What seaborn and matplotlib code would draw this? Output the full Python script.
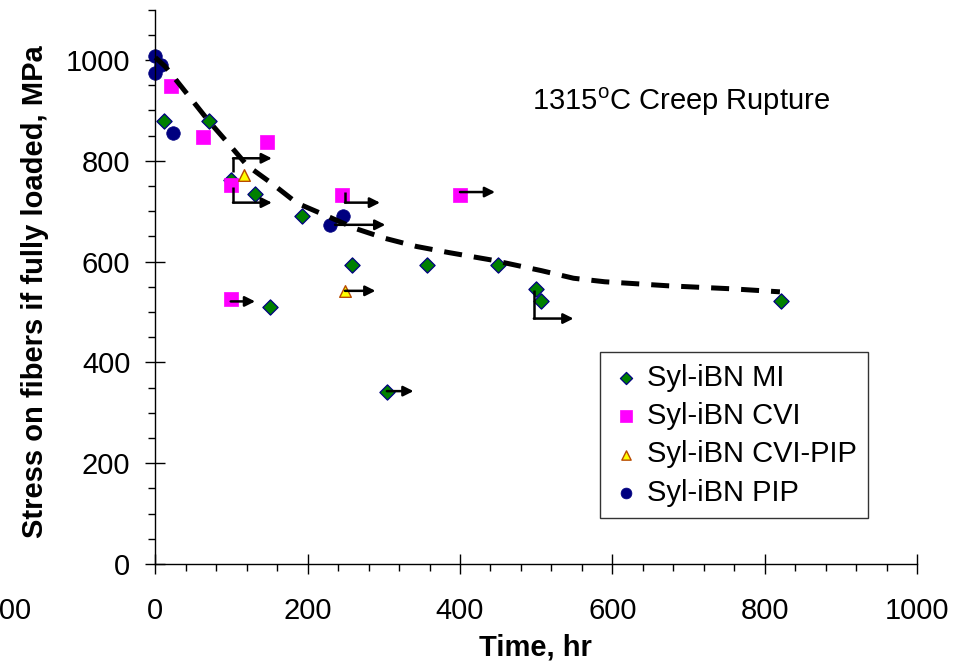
import numpy as np
import pandas as pd
import matplotlib
matplotlib.use('Agg')
import matplotlib.pyplot as plt
from matplotlib.ticker import FixedLocator
import seaborn as sns

# --- data (time in hr, stress in MPa) ---
mi_time = [11, 70, 99, 131, 192, 151, 258, 357, 450, 500, 507, 822, 304]
mi_stress = [879, 879, 762, 735, 691, 509, 593, 593, 593, 545, 522, 522, 342]

cvi_time = [21, 62, 147, 99, 245, 99, 400]
cvi_stress = [949, 848, 837, 752, 732, 526, 732]

cvipip_time = [116, 249]
cvipip_stress = [771, 542]

pip_time = [0, 8, 0, 23, 246, 229]
pip_stress = [1008, 990, 975, 856, 691, 673]

# dashed trend curve
trend_time = [0, 13, 30, 70, 92, 121, 153, 186, 223, 262, 302, 343, 385,
              442, 507, 549, 590, 632, 673, 715, 757, 820]
trend_stress = [1005, 987, 955, 879, 841, 790, 755, 716, 692, 666, 646, 630, 618,
                603, 582, 567, 560, 556, 552, 549, 546, 540]

# run-out arrows: start x, start y, y of the horizontal leg, end x
arrow_x0 = [102, 102, 249, 236, 99, 249, 400, 497, 304]
arrow_y0 = [778, 749, 739, 673, 521, 542, 738, 544, 343]
arrow_yh = [805, 717, 717, 673, 521, 542, 738, 487, 343]
arrow_x1 = [153, 153, 295, 302, 131, 289, 446, 549, 339]

x_ticks = [-200, 0, 200, 400, 600, 800, 1000]
y_ticks = [0, 200, 400, 600, 800, 1000]

series = [
    ('Syl-iBN MI', mi_time, mi_stress, dict(marker='D', s=60, color='#008000', edgecolor='#000080', linewidth=0.9)),
    ('Syl-iBN CVI', cvi_time, cvi_stress, dict(marker='s', s=115, color='#FF00FF', edgecolor='#FF00FF', linewidth=0.5)),
    ('Syl-iBN CVI-PIP', cvipip_time, cvipip_stress, dict(marker='^', s=70, color='#FFFF00', edgecolor='#B84A00', linewidth=1.0)),
    ('Syl-iBN PIP', pip_time, pip_stress, dict(marker='o', s=95, color='#000080', edgecolor='#000080', linewidth=0.5)),
]

sns.set_style("white")
plt.rcParams['font.family'] = ['Liberation Sans', 'DejaVu Sans']
plt.rcParams['mathtext.fontset'] = 'custom'
plt.rcParams['mathtext.rm'] = 'Liberation Sans'
plt.rcParams['axes.unicode_minus'] = False
for key in ['text.color', 'axes.labelcolor', 'xtick.color', 'ytick.color']:
    plt.rcParams[key] = 'black'

fig = plt.figure(figsize=(9.68, 6.68), dpi=100)
ax = fig.add_axes([3 / 968, 104 / 668, 914 / 968, 554.4 / 668])

for label, t, s_vals, kw in series:
    df = pd.DataFrame({'Time': t, 'Stress': s_vals})
    sns.scatterplot(data=df, x='Time', y='Stress', ax=ax, label=label, zorder=2, **kw)

trend = pd.DataFrame({'Time': trend_time, 'Stress': trend_stress})
sns.lineplot(data=trend, x='Time', y='Stress', sort=False, ax=ax, color='black',
             linewidth=3.6, linestyle=(0, (3.6, 2.4)), zorder=3, legend=False)

for x0, y0, yh, x1 in zip(arrow_x0, arrow_y0, arrow_yh, arrow_x1):
    if y0 != yh:
        ax.plot([x0, x0], [y0, yh], color='black', lw=1.8, solid_capstyle='butt', zorder=4)
    ax.annotate('', xy=(x1, yh), xytext=(x0, yh),
                arrowprops=dict(arrowstyle='-|>', color='black', lw=1.8,
                                mutation_scale=15, shrinkA=0, shrinkB=0), zorder=4)

ax.set_xlim(-200, 1000)
ax.set_ylim(0, 1100)

# axes cross at the origin, Excel style
for side in ['top', 'right']:
    ax.spines[side].set_visible(False)
ax.spines['left'].set_position(('data', 0))
ax.spines['bottom'].set_bounds(0, 1000)
for side in ['left', 'bottom']:
    ax.spines[side].set_color('black')
    ax.spines[side].set_linewidth(1.0)

ax.set_xticks(x_ticks)
ax.set_yticks(y_ticks)
ax.xaxis.set_minor_locator(FixedLocator(np.arange(0, 1001, 40)))
ax.yaxis.set_minor_locator(FixedLocator(np.arange(0, 1101, 50)))
ax.tick_params(which='both', bottom=True, left=True)
ax.tick_params(which='major', direction='inout', length=14, width=1.0, colors='black', labelsize=21)
ax.tick_params(axis='x', which='major', pad=17)
ax.tick_params(axis='y', which='major', pad=11)
ax.tick_params(which='minor', direction='out', length=5, width=1.0, colors='black')
ax.xaxis.get_major_ticks()[0].tick1line.set_visible(False)

ax.set_xlabel('Time, hr', fontsize=21, fontweight='bold', color='black')
ax.xaxis.set_label_coords(0.583, -0.125)
ax.set_ylabel('')
fig.text(35 / 968, 0.563, 'Stress on fibers if fully loaded, MPa', rotation=90,
         ha='center', va='center', fontsize=21, fontweight='bold', color='black')

ax.text(494, 901, r'1315$^{\mathrm{o}}$C Creep Rupture', fontsize=21, ha='left',
        va='baseline', color='black')

leg = ax.legend(loc='upper left', bbox_to_anchor=(0.653, 0.382), borderaxespad=0,
                frameon=True, fancybox=False, edgecolor='black', fontsize=21,
                markerscale=0.8, handletextpad=0.2, labelspacing=0.35,
                borderpad=0.4, handlelength=1.0)
leg.get_frame().set_linewidth(1.0)
for txt in leg.get_texts():
    txt.set_color('black')

plt.savefig('out.png', dpi=100)
